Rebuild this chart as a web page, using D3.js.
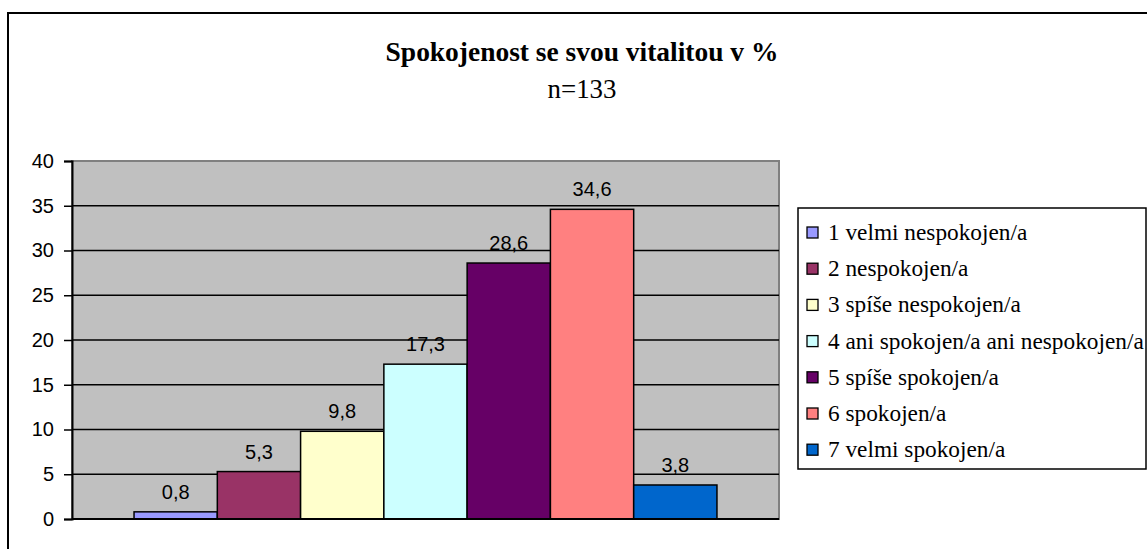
<!DOCTYPE html>
<html><head><meta charset="utf-8">
<script src="https://cdn.jsdelivr.net/npm/d3@7"></script>
<style>
html,body{margin:0;padding:0;background:#fff;overflow:hidden;}
svg{display:block;}
.serif{font-family:'Liberation Serif','Times New Roman','DejaVu Serif',serif;}
.sans{font-family:'Liberation Sans',Arial,'DejaVu Sans',sans-serif;}
</style></head>
<body>
<svg id="chart" width="1147" height="549"></svg>
<script>
const titleText = "Spokojenost se svou vitalitou v %";
const subtitleText = "n=133";
const series = ["1 velmi nespokojen/a","2 nespokojen/a","3 spíše nespokojen/a","4 ani spokojen/a ani nespokojen/a","5 spíše spokojen/a","6 spokojen/a","7 velmi spokojen/a"];
const values = [0.8, 5.3, 9.8, 17.3, 28.6, 34.6, 3.8];
const valueLabels = ["0,8","5,3","9,8","17,3","28,6","34,6","3,8"];
const colors = ["#9999FF","#993366","#FFFFCC","#CCFFFF","#660066","#FF8080","#0066CC"];
const yTicks = [0,5,10,15,20,25,30,35,40];

const svg = d3.select("#chart");
const plot = {x0:72, x1:779, y0:161, y1:519};

svg.append("rect").attr("x",8).attr("y",13).attr("width",1200).attr("height",600)
  .attr("fill","#fff").attr("stroke","#000").attr("stroke-width",2);

const t1 = svg.append("text").attr("class","serif").attr("x",582).attr("y",61).attr("text-anchor","middle")
  .attr("font-weight","bold").attr("font-size",24).attr("fill","#000").text(titleText);
const t2 = svg.append("text").attr("class","serif").attr("x",582).attr("y",98).attr("text-anchor","middle")
  .attr("font-size",24).attr("fill","#000").text(subtitleText);

const y = d3.scaleLinear().domain([0,40]).range([plot.y1, plot.y0]);
const x = d3.scaleBand().domain(series).range([plot.x0, plot.x1]).paddingInner(0).paddingOuter(0.745);

svg.append("rect").attr("x",plot.x0).attr("y",plot.y0).attr("width",plot.x1-plot.x0).attr("height",plot.y1-plot.y0)
  .attr("fill","#C0C0C0").attr("stroke","#808080").attr("stroke-width",2);

svg.append("g").selectAll("line").data(yTicks.filter(t=>t>0 && t<40)).join("line")
  .attr("x1",plot.x0).attr("x2",plot.x1).attr("y1",d=>y(d)).attr("y2",d=>y(d))
  .attr("stroke","#000").attr("stroke-width",1.5);

svg.append("g").selectAll("rect").data(values).join("rect")
  .attr("x",(d,i)=>x(series[i])).attr("width",x.bandwidth())
  .attr("y",d=>y(d)).attr("height",d=>y(0)-y(d))
  .attr("fill",(d,i)=>colors[i]).attr("stroke","#000").attr("stroke-width",1.5);

svg.append("g").selectAll("text").data(values).join("text").attr("class","sans")
  .attr("x",(d,i)=>x(series[i])+x.bandwidth()/2).attr("y",d=>y(d)-13)
  .attr("text-anchor","middle").attr("font-size",20).attr("fill","#000").text((d,i)=>valueLabels[i]);

const yAxis = d3.axisLeft(y).tickValues(yTicks).tickSize(8).tickPadding(10).tickFormat(d3.format("d"));
const ga = svg.append("g").attr("transform",`translate(${plot.x0},0)`).call(yAxis);
ga.attr("font-family",null);
ga.select(".domain").attr("stroke","#000").attr("stroke-width",2);
ga.selectAll(".tick line").attr("stroke","#000").attr("stroke-width",1.5);
ga.selectAll(".tick text").attr("class","sans").attr("font-size",20).attr("fill","#000");

svg.append("line").attr("x1",plot.x0).attr("x2",plot.x1).attr("y1",plot.y1).attr("y2",plot.y1)
  .attr("stroke","#000").attr("stroke-width",2);

const leg = svg.append("g");
leg.append("rect").attr("x",798).attr("y",208).attr("width",348).attr("height",261)
  .attr("fill","#fff").attr("stroke","#000").attr("stroke-width",1.5);
const rows = leg.selectAll("g.row").data(series).join("g").attr("class","row")
  .attr("transform",(d,i)=>`translate(807,${233 + i*36.2})`);
rows.append("rect").attr("x",0).attr("y",-6).attr("width",11).attr("height",11)
  .attr("fill",(d,i)=>colors[i]).attr("stroke","#000").attr("stroke-width",1.3);
const lt = rows.append("text").attr("class","serif").attr("x",21).attr("y",7)
  .attr("font-size",20).attr("fill","#000").text(d=>d);

// scale font sizes so text widths match the reference
function fitSize(sel, node, target){
  const fs = +sel.attr("font-size");
  const w = node.getComputedTextLength();
  return fs * target / w;
}
t1.attr("font-size", fitSize(t1, t1.node(), 393));
t2.attr("font-size", fitSize(t2, t2.node(), 69));
const longest = lt.filter(d=>d===series[3]);
lt.attr("font-size", fitSize(longest, longest.node(), 316));
</script>
</body></html>
